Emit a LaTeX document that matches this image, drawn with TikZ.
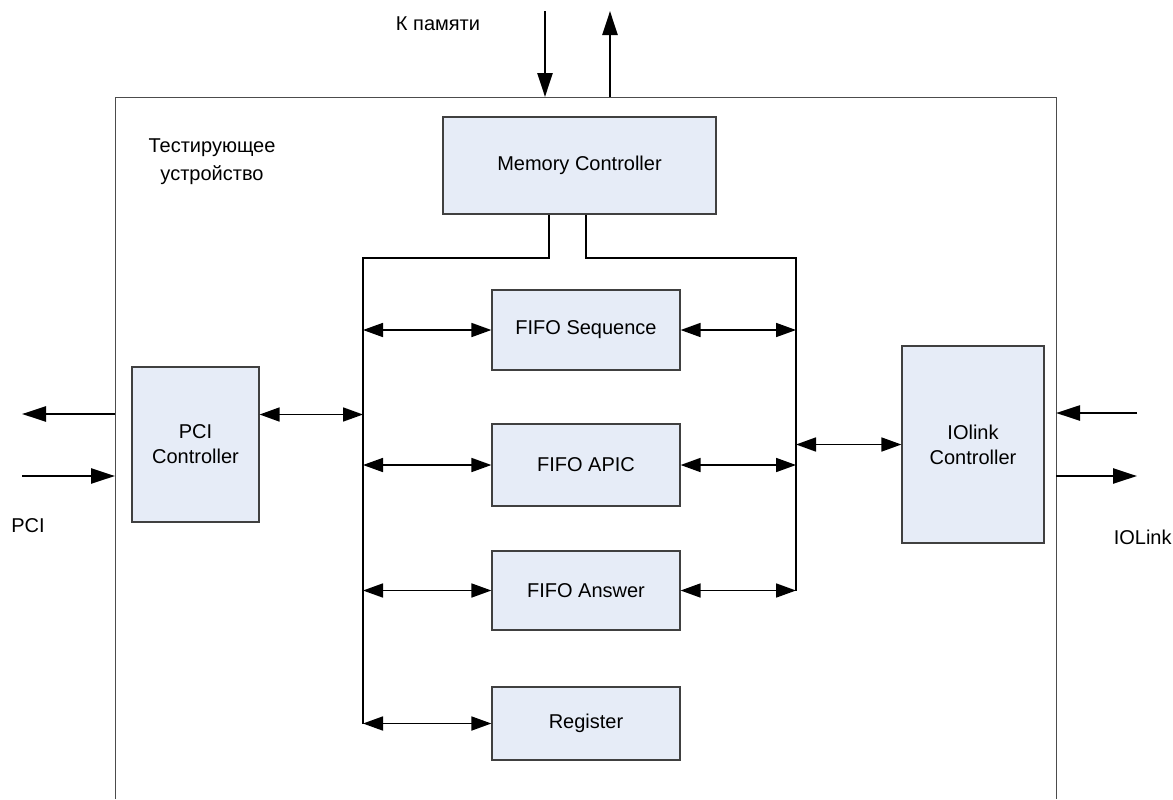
\documentclass[tikz,border=0pt]{standalone}
\usepackage{fontspec}
\setmainfont{Liberation Sans}
\usetikzlibrary{arrows.meta}
\definecolor{blkfill}{HTML}{E6ECF7}
\tikzset{
 blk/.style={draw=black!75, fill=blkfill, line width=.6pt, align=center, inner sep=0pt,
   font=\fontsize{10}{12.5}\selectfont},
 bus/.style={black, line width=1.4pt},
 ext/.style={black, line width=1.2pt, -{Triangle[length=12pt,width=7.5pt]}},
 dbl/.style={black, line width=.85pt, {Triangle[length=10pt,width=7pt]}-{Triangle[length=10pt,width=7pt]}}
}
\begin{document}
\begin{tikzpicture}[x=.5pt, y=-.5pt, font=\fontsize{10}{14}\selectfont]
\useasboundingbox (0,0) rectangle (1173,799);
\coordinate (fTL) at (115,97);
\coordinate (fTR) at (1056,97);
\draw[black!70, line width=.5pt] (115,799) -- (fTL) -- (fTR) -- (1056,799);

\node[blk, minimum width=136.5pt, minimum height=48.5pt] (mem) at (579.5,165.5) {Memory Controller};
\node[blk, minimum width=94pt, minimum height=40pt] (seq) at (586,330) {FIFO Sequence};
\node[blk, minimum width=94pt, minimum height=41pt] (apic) at (586,465) {FIFO APIC};
\node[blk, minimum width=94pt, minimum height=39.5pt] (ans) at (586,590.5) {FIFO Answer};
\node[blk, minimum width=94pt, minimum height=36.5pt] (reg) at (586,723.5) {Register};
\node[blk, minimum width=63.5pt, minimum height=77.5pt] (pci) at (195.5,444.5) {PCI\\Controller};
\node[blk, minimum width=71pt, minimum height=98.5pt] (iol) at (973,444.5) {IOlink\\Controller};

\node (memlbl) at (438,24) {К памяти};
\node (pcilbl) at (28,526) {PCI};
\node[anchor=east, inner sep=0pt] (iollbl) at (1172,537) {IOLink};
\node[align=center] (dev) at (212,162) {Тестирующее\\устройство};

% bus
\coordinate (lbus) at (363,258);
\coordinate (rbus) at (796,258);
\draw[bus] ([xshift=-15.25pt]mem.south) |- (lbus) -- (reg.west -| lbus);
\draw[bus] ([xshift=3.25pt]mem.south) |- (rbus) -- (ans.east -| rbus);
\foreach \b in {seq,apic,ans,reg} {
 \draw[dbl] (\b.west -| lbus) -- (\b.west);
}
\foreach \b in {seq,apic,ans} {
 \draw[dbl] (\b.east) -- (\b.east -| rbus);
}
\draw[dbl] ([yshift=15pt]pci.east) -- ([yshift=15pt]pci.east -| lbus);
\draw[dbl] (iol.west -| rbus) -- (iol.west);

% outside
\coordinate (memin) at (545,11);
\coordinate (memout) at (610,11);
\draw[ext] (memin) -- (memin |- fTL);
\draw[ext] (memout |- fTL) -- (memout);
\coordinate (pcia) at (22,414);
\coordinate (pcib) at (22,476);
\draw[ext] (pcia -| fTL) -- (pcia);
\draw[ext] (pcib) -- (pcib -| fTL);
\coordinate (ioa) at (1137,413);
\coordinate (iob) at (1137,476);
\draw[ext] (ioa) -- (ioa -| fTR);
\draw[ext] (iob -| fTR) -- (iob);
\end{tikzpicture}
\end{document}
